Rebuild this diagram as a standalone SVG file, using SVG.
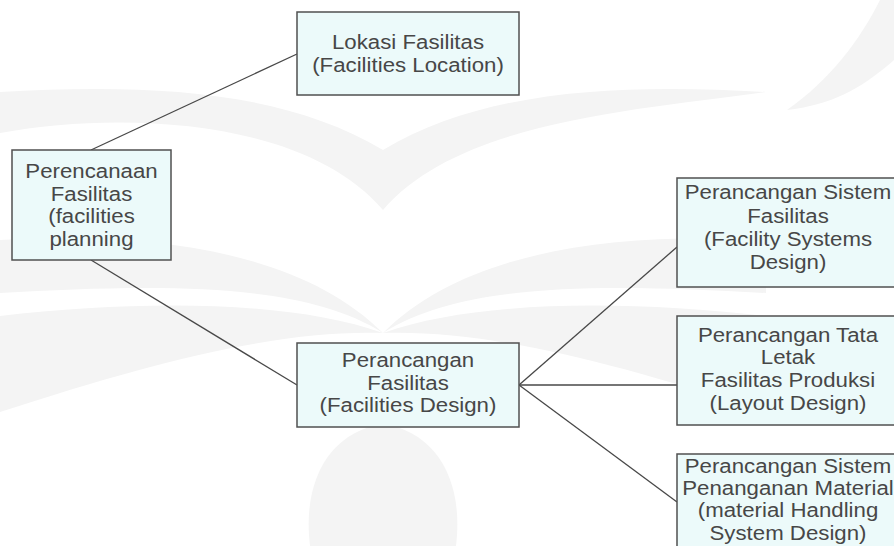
<svg xmlns="http://www.w3.org/2000/svg" width="894" height="546" viewBox="0 0 894 546">
<style>
.box{fill:#ecfafa;stroke:#505050;stroke-width:1.5}
.t{font-family:"Liberation Sans",Arial,sans-serif;font-size:21px;fill:#474747;text-anchor:middle}
.c{stroke:#484848;stroke-width:1.3;fill:none}
.wm{fill:#f4f4f4;stroke:none}
</style>
<rect width="894" height="546" fill="#ffffff"/>
<g id="watermark">
<path class="wm" d="M0,92 C140,84 280,88 383,150 C486,88 626,84 766,92 C640,110 460,120 383,210 C306,120 126,110 0,133 Z"/>
<path class="wm" d="M894,0 L894,60 C860,90 830,105 787,110 C830,80 860,40 880,0 Z"/>
<path class="wm" d="M0,240 C150,232 300,250 383,333 C300,280 150,285 0,293 Z"/>
<path class="wm" d="M0,316 C140,300 290,300 383,333 C280,330 160,360 0,412 Z"/>
<path class="wm" d="M766,240 C616,232 466,250 383,333 C466,280 616,285 766,293 Z"/>
<path class="wm" d="M766,316 C626,300 476,300 383,333 C486,330 606,360 766,412 Z"/>
<path class="wm" d="M310,546 C302,480 330,432 383,424 C436,432 464,480 456,546 Z"/>
</g>
<g id="connectors">
<line class="c" x1="91" y1="150" x2="297" y2="54"/>
<line class="c" x1="91" y1="260" x2="297" y2="385"/>
<line class="c" x1="519" y1="385" x2="677" y2="247"/>
<line class="c" x1="519" y1="385" x2="677" y2="385"/>
<line class="c" x1="519" y1="385" x2="677" y2="502"/>
</g>
<g id="lokasi">
<rect class="box" x="297" y="12" width="222" height="83"/>
<g transform="translate(408 0) scale(1.06 1)">
<text class="t" x="0" y="49">Lokasi Fasilitas</text>
<text class="t" x="0" y="72">(Facilities Location)</text>
</g>
</g>
<g id="perencanaan">
<rect class="box" x="12" y="150" width="159" height="110"/>
<g transform="translate(91.5 0) scale(1.06 1)">
<text class="t" x="0" y="178">Perencanaan</text>
<text class="t" x="0" y="201">Fasilitas</text>
<text class="t" x="0" y="223">(facilities</text>
<text class="t" x="0" y="246">planning</text>
</g>
</g>
<g id="perancangan">
<rect class="box" x="297" y="343" width="222" height="84"/>
<g transform="translate(408 0) scale(1.06 1)">
<text class="t" x="0" y="367">Perancangan</text>
<text class="t" x="0" y="390">Fasilitas</text>
<text class="t" x="0" y="412">(Facilities Design)</text>
</g>
</g>
<g id="sistem-fasilitas">
<rect class="box" x="677" y="178" width="230" height="109"/>
<g transform="translate(788 0) scale(1.06 1)">
<text class="t" x="0" y="199">Perancangan Sistem</text>
<text class="t" x="0" y="223">Fasilitas</text>
<text class="t" x="0" y="246">(Facility Systems</text>
<text class="t" x="0" y="269">Design)</text>
</g>
</g>
<g id="tata-letak">
<rect class="box" x="677" y="316" width="230" height="109"/>
<g transform="translate(788 0) scale(1.06 1)">
<text class="t" x="0" y="342">Perancangan Tata</text>
<text class="t" x="0" y="364">Letak</text>
<text class="t" x="0" y="387">Fasilitas Produksi</text>
<text class="t" x="0" y="410">(Layout Design)</text>
</g>
</g>
<g id="material-handling">
<rect class="box" x="677" y="454" width="230" height="110"/>
<g transform="translate(788 0) scale(1.06 1)">
<text class="t" x="0" y="473">Perancangan Sistem</text>
<text class="t" x="0" y="495">Penanganan Material</text>
<text class="t" x="0" y="517">(material Handling</text>
<text class="t" x="0" y="540">System Design)</text>
</g>
</g>
</svg>
